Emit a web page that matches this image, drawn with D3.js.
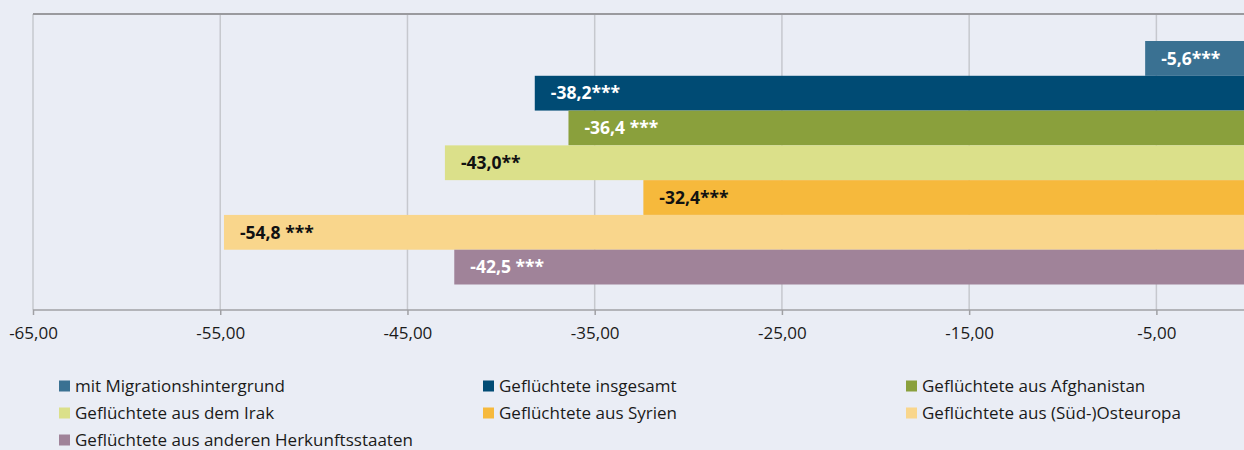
<!DOCTYPE html>
<html><head><meta charset="utf-8">
<script src="https://cdn.jsdelivr.net/npm/d3@7/dist/d3.min.js"></script>
<style>
html,body{margin:0;padding:0;background:#eaedf5;}
svg{display:block;font-family:"Open Sans","Noto Sans",sans-serif;}
</style></head>
<body>
<svg id="c" width="1244" height="450"></svg>
<script>
const categories = ["mit Migrationshintergrund","Geflüchtete insgesamt","Geflüchtete aus Afghanistan","Geflüchtete aus dem Irak","Geflüchtete aus Syrien","Geflüchtete aus (Süd-)Osteuropa","Geflüchtete aus anderen Herkunftsstaaten"];
const values = [-5.6, -38.2, -36.4, -43.0, -32.4, -54.8, -42.5];
const labels = ["-5,6***","-38,2***","-36,4 ***","-43,0**","-32,4***","-54,8 ***","-42,5 ***"];
const colors = ["#3a7192","#004b74","#8aa03c","#dbe08a","#f6b93c","#f9d68c","#a08399"];
const labelColors = ["#ffffff","#ffffff","#ffffff","#111111","#111111","#111111","#ffffff"];
const ticks = [-65,-55,-45,-35,-25,-15,-5];

const svg = d3.select("#c");
const x = d3.scaleLinear().domain([-65,0]).range([33,1250]);
const y = d3.scaleBand().domain(categories).range([41,284.5]).padding(0);
const plotTop = 14, plotBottom = 310;

// gridlines
svg.append("g").selectAll("line").data(ticks).join("line")
  .attr("x1",d=>x(d)).attr("x2",d=>x(d)).attr("y1",plotTop).attr("y2",plotBottom)
  .attr("stroke","#c6c8ce").attr("stroke-width",1.5);
// top line
svg.append("line").attr("x1",x(-65)).attr("x2",1244).attr("y1",plotTop).attr("y2",plotTop)
  .attr("stroke","#9a9a9e").attr("stroke-width",2);

// bars
svg.append("g").selectAll("rect").data(categories).join("rect")
  .attr("x",(d,i)=>x(values[i])).attr("width",(d,i)=>x(0)-x(values[i]))
  .attr("y",d=>y(d)).attr("height",y.bandwidth())
  .attr("fill",(d,i)=>colors[i]);

// labels
svg.append("g").selectAll("text").data(categories).join("text")
  .attr("x",(d,i)=>x(values[i])+16).attr("y",d=>y(d)+y.bandwidth()/2)
  .attr("dy","0.36em").attr("font-size",17.5).attr("font-weight","bold")
  .attr("fill",(d,i)=>labelColors[i]).text((d,i)=>labels[i]);

// axis
const axis = d3.axisBottom(x).tickValues(ticks).tickSize(5).tickPadding(12)
  .tickFormat(d=>d3.format(".2f")(d).replace(".",",").replace("−","-"));
const ag = svg.append("g").attr("transform",`translate(0,${plotBottom})`).call(axis);
ag.select(".domain").remove();
ag.append("line").attr("x1",x(-65)).attr("x2",1244).attr("y1",0).attr("y2",0)
  .attr("stroke","#a0a0a4").attr("stroke-width",1.5);
ag.selectAll(".tick line").attr("stroke","#a0a0a4").attr("stroke-width",1.5);
ag.selectAll(".tick text").attr("font-size",17).attr("fill","#1a1a1a")
  .attr("font-family","'Open Sans','Noto Sans',sans-serif");

// legend
const colX = [59, 483, 906];
const rowY = [386, 413, 440];
const lg = svg.append("g").selectAll("g").data(categories).join("g")
  .attr("transform",(d,i)=>`translate(${colX[i%3]},${rowY[Math.floor(i/3)]})`);
lg.append("rect").attr("x",0).attr("y",-5.5).attr("width",11).attr("height",11)
  .attr("fill",(d,i)=>colors[i]);
lg.append("text").attr("x",16).attr("y",0).attr("dy","0.36em")
  .attr("font-size",17).attr("fill","#1a1a1a").text(d=>d);
</script>
</body></html>
